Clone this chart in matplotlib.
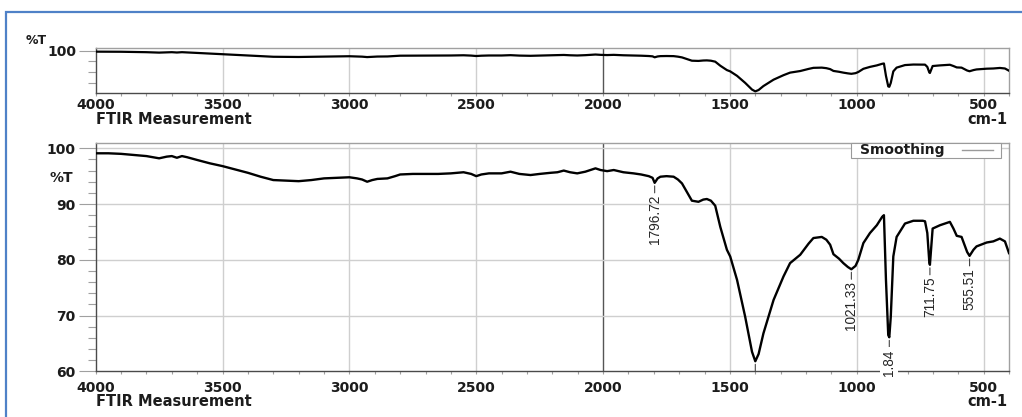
import numpy as np
import matplotlib
matplotlib.use("Agg")
import matplotlib.pyplot as plt
from matplotlib import font_manager
from matplotlib.patches import Rectangle
from matplotlib.lines import Line2D
from matplotlib.ticker import MultipleLocator, FixedLocator, NullFormatter

# Spectrum (wavenumber in cm-1, transmittance in %T)
wavenumber = [4000, 3950, 3900, 3850, 3800, 3750, 3720, 3700, 3680, 3660, 3640, 3600,
              3550, 3500, 3450, 3400, 3350, 3300, 3250, 3200, 3150, 3100, 3050, 3000,
              2970, 2950, 2930, 2910, 2890, 2850, 2820, 2800, 2750, 2700, 2650, 2600,
              2550, 2520, 2500, 2480, 2450, 2400, 2365, 2330, 2286, 2250, 2207, 2180,
              2155, 2130, 2102, 2070, 2030, 2010, 1984, 1958, 1920, 1880, 1850, 1820,
              1805, 1796.72, 1785, 1774, 1750, 1722, 1705, 1689, 1670, 1650, 1624, 1605,
              1591, 1575, 1558, 1538, 1512, 1499, 1472, 1440, 1413, 1400, 1387, 1368,
              1328, 1289, 1263, 1223, 1190, 1171, 1138, 1120, 1105, 1092, 1070, 1053,
              1035, 1021.33, 1005, 994, 974, 948, 921, 900, 893, 885, 876, 871.84, 866,
              856, 843, 810, 777, 740, 731, 722, 714, 711.75, 707, 701, 672, 633, 619,
              606, 587, 574, 565, 555.51, 540, 528, 488, 462, 436, 416, 400]
transmittance = [99.1, 99.1, 99.0, 98.8, 98.6, 98.2, 98.5, 98.6, 98.3, 98.6, 98.4, 97.9,
                 97.3, 96.8, 96.2, 95.6, 94.9, 94.3, 94.2, 94.1, 94.3, 94.6, 94.7, 94.8,
                 94.6, 94.4, 94.0, 94.3, 94.5, 94.6, 95.0, 95.3, 95.4, 95.4, 95.4, 95.5,
                 95.7, 95.4, 95.0, 95.3, 95.5, 95.5, 95.8, 95.4, 95.2, 95.4, 95.6, 95.7,
                 96.0, 95.7, 95.5, 95.8, 96.4, 96.1, 95.9, 96.1, 95.7, 95.5, 95.3, 95.0,
                 94.7, 93.8, 94.6, 94.9, 95.0, 94.9, 94.4, 93.7, 92.2, 90.6, 90.4, 90.8,
                 90.9, 90.6, 89.7, 85.9, 81.8, 80.6, 76.4, 69.8, 63.5, 61.8, 63.1, 66.8,
                 72.8, 77.0, 79.4, 80.9, 82.9, 83.9, 84.1, 83.6, 82.7, 81.0, 80.2, 79.4,
                 78.7, 78.3, 78.9, 80.0, 83.0, 84.8, 86.2, 87.7, 88.0, 76.4, 66.5, 66.1, 69.8,
                 80.6, 84.1, 86.5, 87.0, 87.0, 86.9, 84.8, 79.5, 79.1, 82.0, 85.6, 86.2, 86.8, 85.6,
                 84.3, 84.1, 82.5, 81.4, 80.7, 81.8, 82.4, 83.1, 83.3, 83.8, 83.3, 81.2]

# Picked peaks and the text printed beside them
peak_positions = [1796.72, 1021.33, 871.84, 711.75, 555.51]
peak_texts = ["1796.72", "1021.33", "1.84", "711.75", "555.51"]
unlabelled_peak = 1400

x_major = [4000, 3500, 3000, 2500, 2000, 1500, 1000, 500]
x_labels = ["4000", "3500", "3000", "2500", "2000", "1500", "1000", "500"]
y_major = [60, 70, 80, 90, 100]

TEXT = "#1c1c1c"
GRID = "#cfcfcf"
SPINE_DARK = "#4a4a4a"
SPINE_LIGHT = "#a0a0a0"
tick_font = dict(family="DejaVu Sans", weight="bold", size=10)

# narrow face for the rotated peak labels, best available first
peak_family, peak_size = "DejaVu Sans", 8.5
for fam, size in (("Liberation Sans Narrow", 11.5), ("DejaVu Sans Condensed", 9.3),
                  ("Liberation Sans", 9.8)):
    try:
        font_manager.findfont(font_manager.FontProperties(family=fam),
                              fallback_to_default=False)
        peak_family, peak_size = fam, size
        break
    except Exception:
        continue

W, H = 1022, 417
fig = plt.figure(figsize=(W / 100, H / 100), dpi=100)

def px_axes(left, top, right, bottom):
    return fig.add_axes([left / W, 1 - bottom / H, (right - left) / W, (bottom - top) / H])

ax_top = px_axes(95.7, 48.3, 1009, 93.3)
ax = px_axes(95.7, 142.7, 1009, 371.3)

wn = np.array(wavenumber)
tr = np.array(transmittance)

def style_axes(a, xpad):
    a.set_xlim(4000, 400)
    a.xaxis.set_major_locator(FixedLocator(x_major))
    a.set_xticklabels(x_labels)
    a.xaxis.set_minor_locator(MultipleLocator(100))
    a.tick_params(axis="x", which="both", direction="out", length=2.5, width=0.8,
                  color=SPINE_LIGHT, pad=xpad, labelcolor=TEXT)
    for lab in a.get_xticklabels():
        lab.set_fontproperties(font_manager.FontProperties(**tick_font))
    for side in ("top", "right"):
        a.spines[side].set_color(SPINE_LIGHT)
    for side in ("left", "bottom"):
        a.spines[side].set_color(SPINE_DARK)
    for s in a.spines.values():
        s.set_linewidth(1.0)
    # vertical grid; the 2000 line is drawn darker
    for v in x_major:
        if v == 4000:
            continue
        a.axvline(v, color="#555555" if v == 2000 else GRID, lw=1.0, zorder=0.5)

# Overview panel
ax_top.plot(wn, tr, color="black", lw=1.6, zorder=3)
style_axes(ax_top, xpad=1.0)
ax_top.set_ylim(60, 102.25)
ax_top.yaxis.set_major_locator(FixedLocator([100]))
ax_top.set_yticklabels(["100"])
ax_top.yaxis.set_minor_locator(FixedLocator([70, 80, 90]))
ax_top.yaxis.set_minor_formatter(NullFormatter())
ax_top.tick_params(axis="y", which="major", length=12, width=0.8, color=SPINE_LIGHT,
                   pad=2, labelcolor=TEXT)
ax_top.tick_params(axis="y", which="minor", length=6, width=0.8, color=SPINE_LIGHT)
for lab in ax_top.get_yticklabels():
    lab.set_fontproperties(font_manager.FontProperties(**tick_font))

# Main panel
ax.plot(wn, tr, color="black", lw=1.7, zorder=3)
style_axes(ax, xpad=4.5)
ax.set_ylim(60, 101)
ax.yaxis.set_major_locator(FixedLocator(y_major))
ax.yaxis.set_minor_locator(MultipleLocator(2))
ax.tick_params(axis="y", which="major", length=12, width=0.8, color=SPINE_LIGHT,
               pad=2.5, labelcolor=TEXT)
ax.tick_params(axis="y", which="minor", length=6, width=0.8, color=SPINE_LIGHT)
for lab in ax.get_yticklabels():
    lab.set_fontproperties(font_manager.FontProperties(**tick_font))
for v in y_major[1:]:
    ax.axhline(v, color=GRID, lw=1.0, zorder=0.5)

# Peak labels
for pos, txt in zip(peak_positions, peak_texts):
    val = float(np.interp(pos, wn[::-1], tr[::-1]))
    ax.annotate("", xy=(pos, val), xytext=(0, -10), textcoords="offset pixels",
                arrowprops=dict(arrowstyle="-", color="#444444", lw=0.8,
                                shrinkA=0, shrinkB=2.2), zorder=4)
    bbox = None
    if txt == "1.84":
        bbox = dict(facecolor="white", edgecolor="none", pad=1.5)
    ax.annotate(txt, xy=(pos, val), xytext=(0, -12), textcoords="offset pixels",
                rotation=90, ha="center", va="top", color="#262626",
                family=peak_family, size=peak_size, bbox=bbox, zorder=5,
                annotation_clip=False)

val1400 = float(np.interp(unlabelled_peak, wn[::-1], tr[::-1]))
ax.annotate("", xy=(unlabelled_peak, val1400), xytext=(unlabelled_peak, 60),
            arrowprops=dict(arrowstyle="-", color="#444444", lw=0.8,
                            shrinkA=0, shrinkB=2.2), zorder=4)

# Legend box: label followed by its line sample
ax.add_patch(Rectangle((0.827, 0.9318), 0.9913 - 0.827, 1 - 0.9318,
                       transform=ax.transAxes, facecolor="white", edgecolor="#9a9a9a",
                       lw=0.8, zorder=6, clip_on=False))
ax.text(0.8364, 0.966, "Smoothing", transform=ax.transAxes, ha="left", va="center",
        color=TEXT, family="DejaVu Sans", weight="bold", size=10, zorder=7)
ax.add_line(Line2D([0.9485, 0.9825], [0.966, 0.966], transform=ax.transAxes,
                   color="#9a9a9a", lw=1.0, zorder=7))

# Axis captions
cap = dict(family="DejaVu Sans", weight="bold", size=10.5, color=TEXT)
fig.text(36 / W, 1 - 40 / H, "%T", ha="center", va="center",
         family="DejaVu Sans", weight="bold", size=9, color=TEXT)
fig.text(61 / W, 1 - 178 / H, "%T", ha="center", va="center",
         family="DejaVu Sans", weight="bold", size=10, color=TEXT)
for ycap in (119, 402):
    fig.text(96 / W, 1 - ycap / H, "FTIR Measurement", ha="left", va="center", **cap)
    fig.text(1007 / W, 1 - ycap / H, "cm-1", ha="right", va="center", **cap)

# Outer frame
fig.add_artist(Rectangle((6 / W, -0.2), 1.2, 1.2 - 12 / H, transform=fig.transFigure,
                         fill=False, edgecolor="#4f81c7", lw=1.6))

fig.savefig("out.png", dpi=100)
